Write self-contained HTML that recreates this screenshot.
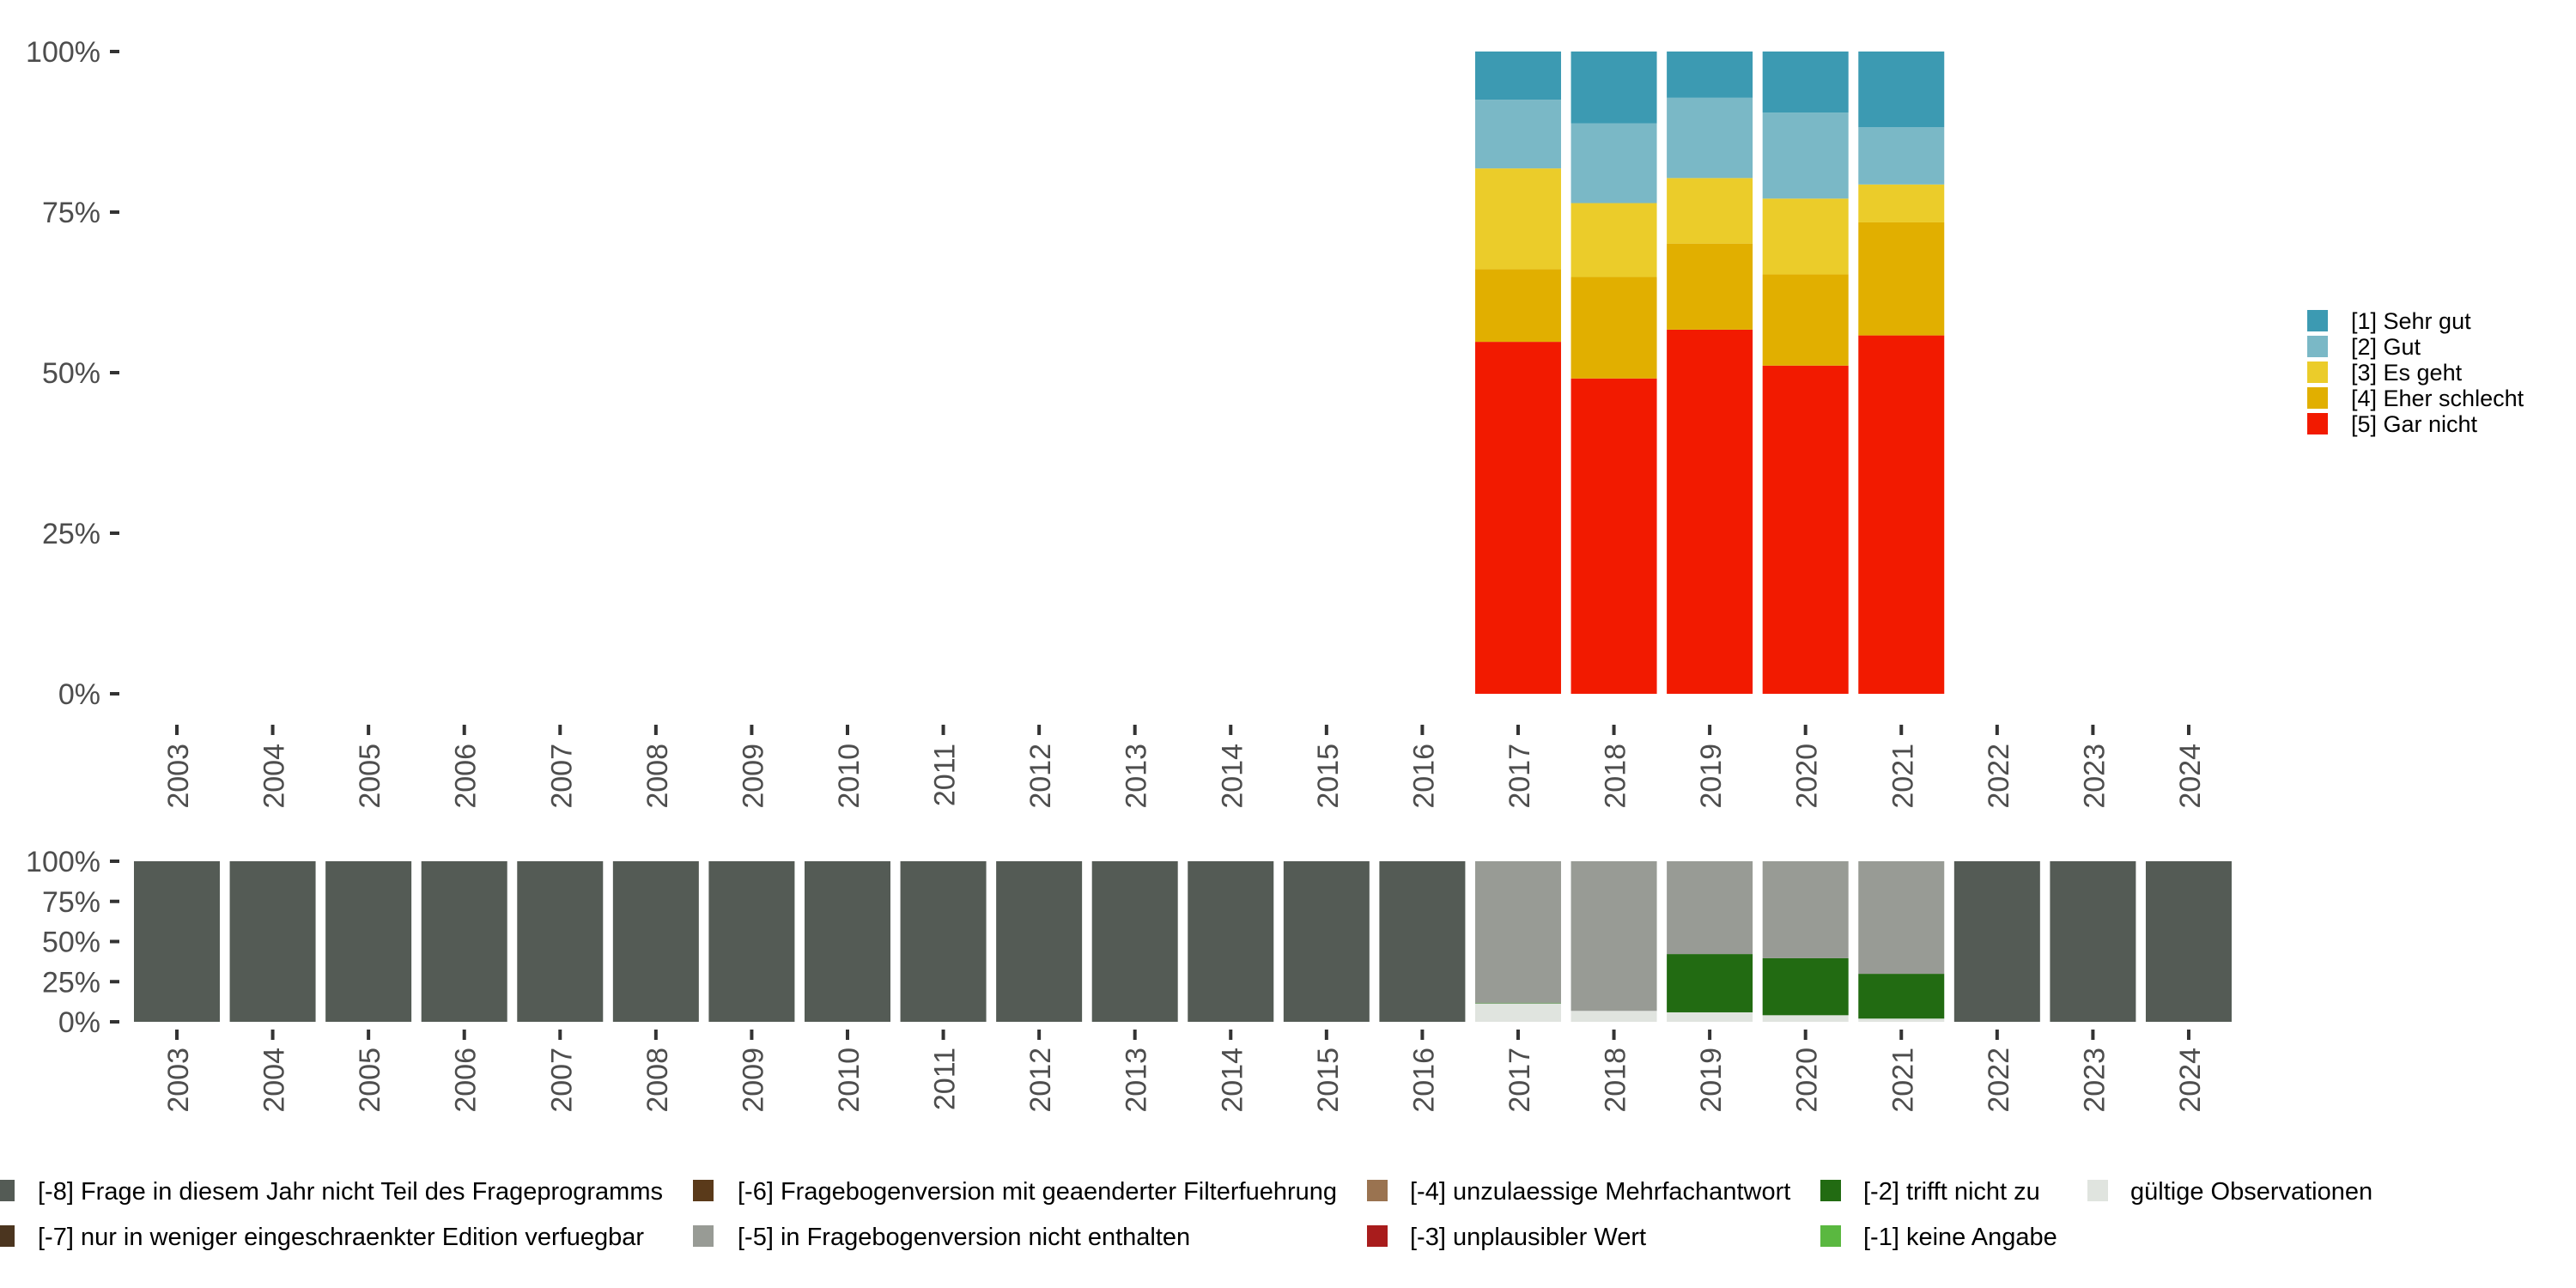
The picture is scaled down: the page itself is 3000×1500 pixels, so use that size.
<!DOCTYPE html>
<html><head><meta charset="utf-8">
<style>
html,body{margin:0;padding:0;background:#fff;}
svg{display:block;font-family:"Liberation Sans",sans-serif;}
</style></head>
<body>
<svg id="chart" width="3000" height="1500" viewBox="0 0 3000 1500">
<g id="topPanel"></g>
<g id="botPanel"></g>
<g id="legPanel"></g>
</svg>
<script>
const years = [2003,2004,2005,2006,2007,2008,2009,2010,2011,2012,2013,2014,2015,2016,2017,2018,2019,2020,2021,2022,2023,2024];
const topYears = [2017,2018,2019,2020,2021];
const garNicht = [54.8,49.1,56.7,51.1,55.8];
const eherSchlecht = [11.3,15.8,13.4,14.2,17.6];
const esGeht = [15.7,11.5,10.2,11.8,5.9];
const gut = [10.7,12.4,12.5,13.4,8.9];
const sehrGut = [7.5,11.2,7.2,9.5,11.8];
const topSeries = [garNicht, eherSchlecht, esGeht, gut, sehrGut];
const topColors = ["#f21a00","#e1af00","#ebcc2a","#7ab8c6","#3c9ab2"];
const topNames = ["gar-nicht","eher-schlecht","es-geht","gut","sehr-gut"];
const legTop = ["[1] Sehr gut","[2] Gut","[3] Es geht","[4] Eher schlecht","[5] Gar nicht"];
const legTopCol = ["#3c9ab2","#7ab8c6","#ebcc2a","#e1af00","#f21a00"];
const gueltig = [0,0,0,0,0,0,0,0,0,0,0,0,0,0,11.5,6.8,5.9,4.1,2.0,0,0,0];
const trifftNicht = [0,0,0,0,0,0,0,0,0,0,0,0,0,0,0.4,0,36.3,35.5,27.9,0,0,0];
const nichtEnthalten = [0,0,0,0,0,0,0,0,0,0,0,0,0,0,88.1,93.2,57.8,60.4,70.1,0,0,0];
const nichtTeil = [100,100,100,100,100,100,100,100,100,100,100,100,100,100,0,0,0,0,0,100,100,100];
const botSeries = [gueltig, trifftNicht, nichtEnthalten, nichtTeil];
const botColors = ["#e0e4df","#226b12","#989b95","#545b55"];
const botNames = ["gueltig","trifft-nicht-zu","nicht-enthalten","nicht-teil"];
const yTicks = [0,25,50,75,100];
const yTickLabels = ["0%","25%","50%","75%","100%"];

const NS="http://www.w3.org/2000/svg";
function mk(tag,attrs,parent){const e=document.createElementNS(NS,tag);for(const k in attrs)e.setAttribute(k,attrs[k]);parent.appendChild(e);return e;}
const xPos = yr => 206 + (years.indexOf(yr))*111.57;
const BW = 100;
function yTop(v){return 808 - v/100*748;}
function yBot(v){return 1190 - v/100*187;}

function axes(g, yf, tickY0, labelY0, fs){
  yTicks.forEach((t,i)=>{
    const r=mk('rect',{x:128,y:yf(t)-2,width:11,height:4,fill:'#333'},g);
    
    
    const tx=mk('text',{x:117,y:yf(t)+12,'text-anchor':'end','font-size':fs,fill:'#4d4d4d'},g);
    tx.textContent=yTickLabels[i];
    
    
  });
  years.forEach(yr=>{
    const cx=xPos(yr);
    const r=mk('rect',{x:cx-2,y:tickY0,width:4,height:12,fill:'#333'},g);
    
    
    const tx=mk('text',{x:0,y:0,'text-anchor':'end','font-size':34,fill:'#4d4d4d',transform:`translate(${cx+13},${labelY0}) rotate(-90)`},g);
    tx.textContent=yr;
    
    
  });
}

const topG=document.getElementById('topPanel');
topYears.forEach((yr,i)=>{
  let acc=0;
  topSeries.forEach((s,k)=>{
    const v=s[i];
    const r=mk('rect',{x:xPos(yr)-BW/2,y:yTop(acc+v),width:BW,height:yTop(acc)-yTop(acc+v),fill:topColors[k]},topG);
    
    
    acc+=v;
  });
});
axes(topG,yTop,844,866,34);

const botG=document.getElementById('botPanel');
years.forEach((yr,i)=>{
  let acc=0;
  botSeries.forEach((s,k)=>{
    const v=s[i]; if(!v) return;
    const r=mk('rect',{x:xPos(yr)-BW/2,y:yBot(acc+v),width:BW,height:yBot(acc)-yBot(acc+v),fill:botColors[k]},botG);
    
    
    acc+=v;
  });
});
axes(botG,yBot,1199,1220,34);

const legG=document.getElementById('legPanel');
legTop.forEach((t,i)=>{
  const r=mk('rect',{x:2687,y:361+i*30,width:24,height:25,fill:legTopCol[i]},legG);
  
  
  const tx=mk('text',{x:2738,y:383+i*30,'font-size':27,fill:'#000'},legG);
  tx.textContent=t;
  
  
});
const bl = [
 ["[-8] Frage in diesem Jahr nicht Teil des Frageprogramms","#545b55",-7,44,0],
 ["[-7] nur in weniger eingeschraenkter Edition verfuegbar","#4b351f",-7,44,1],
 ["[-6] Fragebogenversion mit geaenderter Filterfuehrung","#5a3a1a",807,859,0],
 ["[-5] in Fragebogenversion nicht enthalten","#989b95",807,859,1],
 ["[-4] unzulaessige Mehrfachantwort","#9a7350",1592,1642,0],
 ["[-3] unplausibler Wert","#a81c1c",1592,1642,1],
 ["[-2] trifft nicht zu","#226b12",2120,2170,0],
 ["[-1] keine Angabe","#5ab840",2120,2170,1],
 ["gültige Observationen","#e0e4df",2431,2481,0]
];
bl.forEach(e=>{
  const yy=1374+e[4]*53;
  const r=mk('rect',{x:e[2],y:yy,width:24,height:25,fill:e[1]},legG);
  
  
  const tx=mk('text',{x:e[3],y:yy+23,'font-size':29,fill:'#000'},legG);
  tx.textContent=e[0];
  
  
});
</script>
</body></html>
